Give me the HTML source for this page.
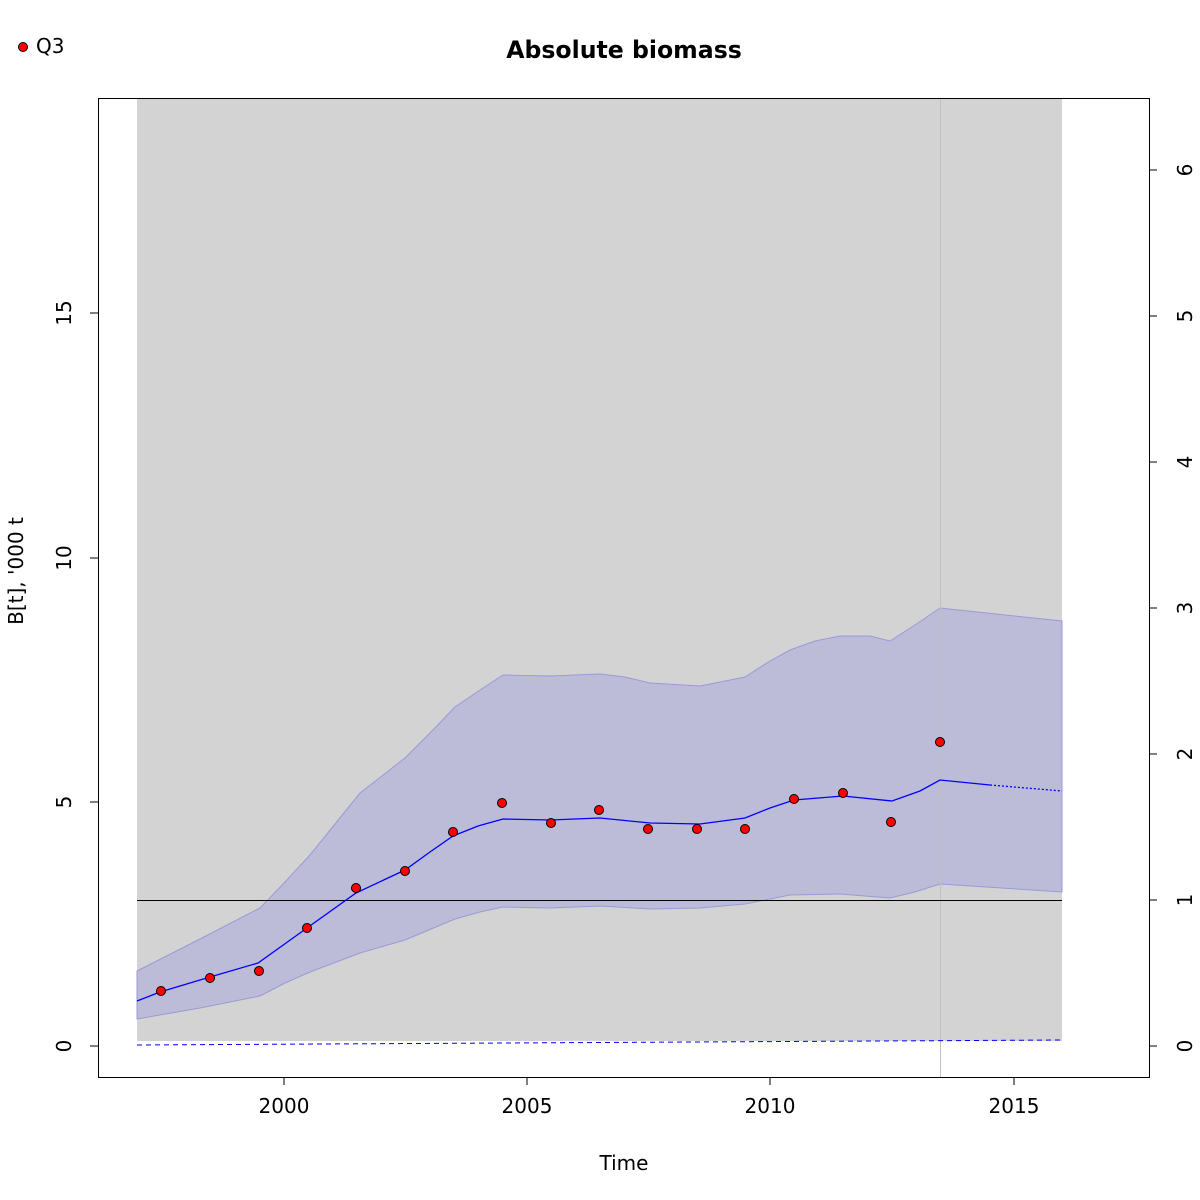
<!DOCTYPE html>
<html><head><style>body{margin:0;background:#fff}svg{display:block}text{font-family:"DejaVu Sans","Liberation Sans",sans-serif;font-size:20px;fill:#000}</style></head><body>
<svg width="1200" height="1200" viewBox="0 0 1200 1200" xmlns="http://www.w3.org/2000/svg">
<rect width="1200" height="1200" fill="#fff"/>
<rect x="137" y="98" width="925" height="943" fill="#d3d3d3"/>
<polygon fill="#bcbcd8" stroke="#9a9ad8" stroke-width="1" points="137,971 200,939 260,908 285,882 310,855 335,824 360,793 405,758 430,733 455,707 480,690 503,675 550,676 600,674 625,677 650,683 700,686 745,677 770,661 790,650 815,641 840,636 870,636 890,641 915,625 940,608 1062,621 1062,892 940,884 915,892 890,898 840,894 790,895 745,904 700,908 650,909 600,906 550,908 503,907 480,912 455,919 405,940 360,953 310,972 285,983 260,996 200,1008 137,1019"/>
<line x1="940.5" y1="98" x2="940.5" y2="1077" stroke="#c0c0c0" stroke-width="1"/>
<line x1="137" y1="900.5" x2="1062" y2="900.5" stroke="#000" stroke-width="1"/>
<polyline fill="none" stroke="#00f" stroke-width="1.3" points="137,1001 160,992 210,977 258,963 307,928 356,893 405,870 430,852 453,836 478,826 503,819 550,820 600,818 650,823 700,824 745,818 770,808 794,800 843,796 892,801 920,791 940,780 990,785"/>
<polyline fill="none" stroke="#00f" stroke-width="1.3" stroke-dasharray="2,2" points="990,785 1062,791"/>
<line x1="137" y1="1045" x2="1062" y2="1040" stroke="#00f" stroke-width="1" stroke-dasharray="5,4"/>
<g fill="#f00" stroke="#000" stroke-width="1">
<circle cx="161" cy="991" r="4.5"/><circle cx="210" cy="978" r="4.5"/><circle cx="259" cy="971" r="4.5"/><circle cx="307" cy="928" r="4.5"/><circle cx="356" cy="888" r="4.5"/><circle cx="405" cy="871" r="4.5"/><circle cx="453" cy="832" r="4.5"/><circle cx="502" cy="803" r="4.5"/><circle cx="551" cy="823" r="4.5"/><circle cx="599" cy="810" r="4.5"/><circle cx="648" cy="829" r="4.5"/><circle cx="697" cy="829" r="4.5"/><circle cx="745" cy="829" r="4.5"/><circle cx="794" cy="799" r="4.5"/><circle cx="843" cy="793" r="4.5"/><circle cx="891" cy="822" r="4.5"/><circle cx="940" cy="742" r="4.5"/>
<circle cx="23" cy="47" r="4.5"/></g>
<text x="36" y="53">Q3</text>
<text x="624" y="58" text-anchor="middle" font-weight="bold" style="font-size:23.6px">Absolute biomass</text>
<rect x="98.5" y="98.5" width="1051" height="979" fill="none" stroke="#000" stroke-width="1"/>
<g stroke="#000" stroke-width="1">
<line x1="284" y1="1077" x2="284" y2="1085"/><line x1="527" y1="1077" x2="527" y2="1085"/><line x1="770" y1="1077" x2="770" y2="1085"/><line x1="1014" y1="1077" x2="1014" y2="1085"/>
<line x1="90" y1="1046" x2="98" y2="1046"/><line x1="90" y1="802" x2="98" y2="802"/><line x1="90" y1="558" x2="98" y2="558"/><line x1="90" y1="313" x2="98" y2="313"/>
<line x1="1149" y1="1046" x2="1157" y2="1046"/><line x1="1149" y1="900" x2="1157" y2="900"/><line x1="1149" y1="754" x2="1157" y2="754"/><line x1="1149" y1="608" x2="1157" y2="608"/><line x1="1149" y1="462" x2="1157" y2="462"/><line x1="1149" y1="316" x2="1157" y2="316"/><line x1="1149" y1="170" x2="1157" y2="170"/>
</g>
<g text-anchor="middle">
<text x="284" y="1113">2000</text><text x="527" y="1113">2005</text><text x="770" y="1113">2010</text><text x="1014" y="1113">2015</text>
<text x="624" y="1170">Time</text>
<text transform="translate(71,1046) rotate(-90)">0</text><text transform="translate(71,802) rotate(-90)">5</text><text transform="translate(71,558) rotate(-90)">10</text><text transform="translate(71,313) rotate(-90)">15</text>
<text transform="translate(23,571) rotate(-90)">B[t], '000 t</text>
<text transform="translate(1192,1046) rotate(-90)">0</text><text transform="translate(1192,900) rotate(-90)">1</text><text transform="translate(1192,754) rotate(-90)">2</text><text transform="translate(1192,608) rotate(-90)">3</text><text transform="translate(1192,462) rotate(-90)">4</text><text transform="translate(1192,316) rotate(-90)">5</text><text transform="translate(1192,170) rotate(-90)">6</text>
</g>
</svg>
</body></html>
